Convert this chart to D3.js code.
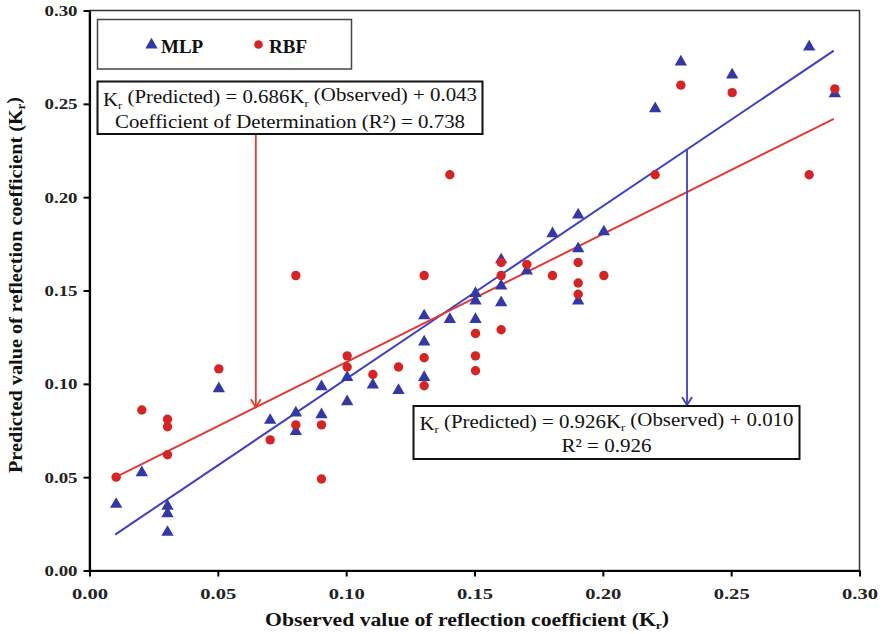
<!DOCTYPE html>
<html>
<head>
<meta charset="utf-8">
<script src="https://cdn.jsdelivr.net/npm/d3@7"></script>
<style>
  html, body { margin: 0; padding: 0; background: #fff; }
  svg { display: block; }
  text { font-family: "Liberation Serif", "Times New Roman", Times, serif; }
</style>
</head>
<body>
<svg id="chart" width="884" height="634" font-family="Liberation Serif"></svg>
<script>
// ---------- data ----------
const mlpX = [0.01,0.02,0.03,0.03,0.03,0.05,0.07,0.08,0.08,0.09,0.09,0.10,0.10,0.11,0.12,0.13,0.13,0.13,0.14,0.15,0.15,0.15,0.16,0.16,0.16,0.17,0.18,0.19,0.19,0.19,0.20,0.22,0.23,0.25,0.28,0.29];
const mlpY = [0.036,0.053,0.035,0.031,0.021,0.098,0.081,0.085,0.075,0.099,0.084,0.104,0.091,0.100,0.097,0.137,0.123,0.104,0.135,0.149,0.145,0.135,0.167,0.153,0.144,0.161,0.181,0.191,0.173,0.145,0.182,0.248,0.273,0.266,0.281,0.256];
const rbfX = [0.01,0.02,0.03,0.03,0.03,0.05,0.07,0.08,0.08,0.09,0.09,0.10,0.10,0.11,0.12,0.13,0.13,0.13,0.14,0.15,0.15,0.15,0.16,0.16,0.16,0.17,0.18,0.19,0.19,0.19,0.20,0.22,0.23,0.25,0.28,0.29];
const rbfY = [0.050,0.086,0.081,0.077,0.062,0.108,0.070,0.158,0.078,0.078,0.049,0.115,0.109,0.105,0.109,0.158,0.114,0.099,0.212,0.127,0.115,0.107,0.165,0.158,0.129,0.164,0.158,0.165,0.154,0.148,0.158,0.212,0.260,0.256,0.212,0.258];
const xTicks = [0.00,0.05,0.10,0.15,0.20,0.25,0.30];
const yTicks = [0.00,0.05,0.10,0.15,0.20,0.25,0.30];
const seriesNames = ["MLP","RBF"];
const mlpFit = {slope: 0.926, intercept: 0.010, r2: 0.926};
const rbfFit = {slope: 0.686, intercept: 0.043, r2: 0.738};
const fitRange = [0.01, 0.29];
const xTitle = "Observed value of reflection coefficient (K";
const yTitle = "Predicted value of reflection coefficient (K";

// ---------- styles ----------
const blueMark = "#3438a6", blueLine = "#3c40c0";
const redMark = "#d42424", redLine = "#e23a34";

const svg = d3.select("#chart");
const x = d3.scaleLinear().domain([0, 0.30]).range([89.5, 859.5]);
const y = d3.scaleLinear().domain([0, 0.30]).range([570.5, 10.5]);
const fmt = d3.format(".2f");

// frame (top/right)
svg.append("rect").attr("x", x(0)).attr("y", y(0.30))
  .attr("width", x(0.30) - x(0)).attr("height", y(0) - y(0.30))
  .attr("fill", "none").attr("stroke", "#333").attr("stroke-width", 1.5);

// axes
const xAxis = svg.append("g").attr("transform", `translate(0,${y(0)})`)
  .call(d3.axisBottom(x).tickValues(xTicks).tickFormat(fmt).tickSize(6).tickSizeOuter(0));
const yAxis = svg.append("g").attr("transform", `translate(${x(0)},0)`)
  .call(d3.axisLeft(y).tickValues(yTicks).tickFormat(fmt).tickSize(6).tickSizeOuter(0));
[xAxis, yAxis].forEach(g => {
  g.attr("font-family", "Liberation Serif");
  g.select(".domain").attr("stroke", "#000").attr("stroke-width", 2.2);
  g.selectAll(".tick line").attr("stroke", "#000").attr("stroke-width", 2);
  g.selectAll(".tick text").attr("font-family", "Liberation Serif")
    .attr("font-weight", "bold").attr("font-size", 15.5).attr("fill", "#222")
    .attr("lengthAdjust", "spacingAndGlyphs");
});
xAxis.selectAll(".tick text").attr("dy", null).attr("y", 28).attr("textLength", 36);
yAxis.selectAll(".tick text").attr("x", -12).attr("textLength", 33);

// axis titles
function kTitle(sel, txt) {
  sel.append("tspan").text(txt);
  sel.append("tspan").text("r").attr("font-size", "0.62em").attr("dy", "0.25em");
  sel.append("tspan").text(")").attr("dy", "-0.25em");
}
const xt = svg.append("text").attr("x", 467).attr("y", 626).attr("text-anchor", "middle")
  .attr("font-weight", "bold").attr("font-size", 18).attr("fill", "#111")
  .attr("textLength", 404).attr("lengthAdjust", "spacingAndGlyphs");
kTitle(xt, xTitle);
const yt = svg.append("text").attr("transform", "translate(22,285) rotate(-90)").attr("text-anchor", "middle")
  .attr("font-weight", "bold").attr("font-size", 19).attr("fill", "#111")
  .attr("textLength", 376).attr("lengthAdjust", "spacingAndGlyphs");
kTitle(yt, yTitle);

// regression lines
const fitLine = f => d3.line().x(d => x(d)).y(d => y(f.slope * d + f.intercept));
svg.append("path").datum(fitRange).attr("d", fitLine(mlpFit))
  .attr("fill", "none").attr("stroke", blueLine).attr("stroke-width", 2);
svg.append("path").datum(fitRange).attr("d", fitLine(rbfFit))
  .attr("fill", "none").attr("stroke", redLine).attr("stroke-width", 2);

// points
const tri = d3.symbol().type(d3.symbolTriangle).size(66);
svg.append("g").selectAll("path").data(mlpX.map((v, i) => [v, mlpY[i]])).join("path")
  .attr("d", tri).attr("transform", d => `translate(${x(d[0]) + 1},${y(d[1]) + 1})`)
  .attr("fill", blueMark);
svg.append("g").selectAll("circle").data(rbfX.map((v, i) => [v, rbfY[i]])).join("circle")
  .attr("cx", d => x(d[0]) + 1).attr("cy", d => y(d[1])).attr("r", 4.7)
  .attr("fill", redMark);

// legend
const lg = svg.append("g");
lg.append("rect").attr("x", 97.5).attr("y", 19.5).attr("width", 254).attr("height", 49.5)
  .attr("fill", "#fff").attr("stroke", "#444").attr("stroke-width", 1.5);
lg.append("path").attr("d", tri).attr("transform", "translate(151.5,45)").attr("fill", blueMark);
lg.append("text").attr("x", 161).attr("y", 52.5).attr("font-weight", "bold").attr("font-size", 19)
  .attr("fill", "#111").text(seriesNames[0]);
lg.append("circle").attr("cx", 258.5).attr("cy", 44.5).attr("r", 4.3).attr("fill", redMark);
lg.append("text").attr("x", 269).attr("y", 52.5).attr("font-weight", "bold").attr("font-size", 19)
  .attr("fill", "#111").text(seriesNames[1]);

// annotation boxes
function eqLine(sel, f) {
  sel.append("tspan").text("K");
  sel.append("tspan").text("r").attr("font-size", "0.6em").attr("dy", "0.28em");
  sel.append("tspan").text(` (Predicted) = ${f.slope.toFixed(3)}K`).attr("dy", "-0.28em");
  sel.append("tspan").text("r").attr("font-size", "0.6em").attr("dy", "0.28em");
  sel.append("tspan").text(` (Observed) + ${f.intercept.toFixed(3)}`).attr("dy", "-0.28em");
}
function box(bx, by, bw, bh, f, line2, l2len) {
  const g = svg.append("g");
  g.append("rect").attr("x", bx).attr("y", by).attr("width", bw).attr("height", bh)
    .attr("fill", "#fff").attr("stroke", "#111").attr("stroke-width", 2);
  const t1 = g.append("text").attr("x", bx + bw / 2).attr("y", by + 24).attr("text-anchor", "middle")
    .attr("font-size", 19).attr("fill", "#111")
    .attr("textLength", 374).attr("lengthAdjust", "spacingAndGlyphs");
  eqLine(t1, f);
  g.append("text").attr("x", bx + bw / 2).attr("y", by + 46).attr("text-anchor", "middle")
    .attr("font-size", 19).attr("fill", "#111")
    .attr("textLength", l2len).attr("lengthAdjust", "spacingAndGlyphs").text(line2);
}

// arrows
function arrow(xv, y1, y2, color) {
  const xp = x(xv);
  svg.append("line").attr("x1", xp).attr("x2", xp).attr("y1", y1).attr("y2", y2)
    .attr("stroke", color).attr("stroke-width", 1.8);
  const dir = y2 > y1 ? -1 : 1;
  svg.append("path").attr("d", `M${xp - 5},${y2 + dir * 8}L${xp},${y2}L${xp + 5},${y2 + dir * 8}`)
    .attr("fill", "none").attr("stroke", color).attr("stroke-width", 1.8);
}
const rbfArrowX = 0.0648, mlpArrowX = 0.2328;
arrow(rbfArrowX, 134, y(rbfFit.slope * rbfArrowX + rbfFit.intercept), redLine);
arrow(mlpArrowX, y(mlpFit.slope * mlpArrowX + mlpFit.intercept), 405, blueLine);

box(97.5, 81.5, 385, 52.5, rbfFit, `Coefficient of Determination  (R²) = ${rbfFit.r2.toFixed(3)}`, 350);
box(413.5, 406, 386, 53, mlpFit, `R² = ${mlpFit.r2.toFixed(3)}`, 90);
</script>
</body>
</html>
